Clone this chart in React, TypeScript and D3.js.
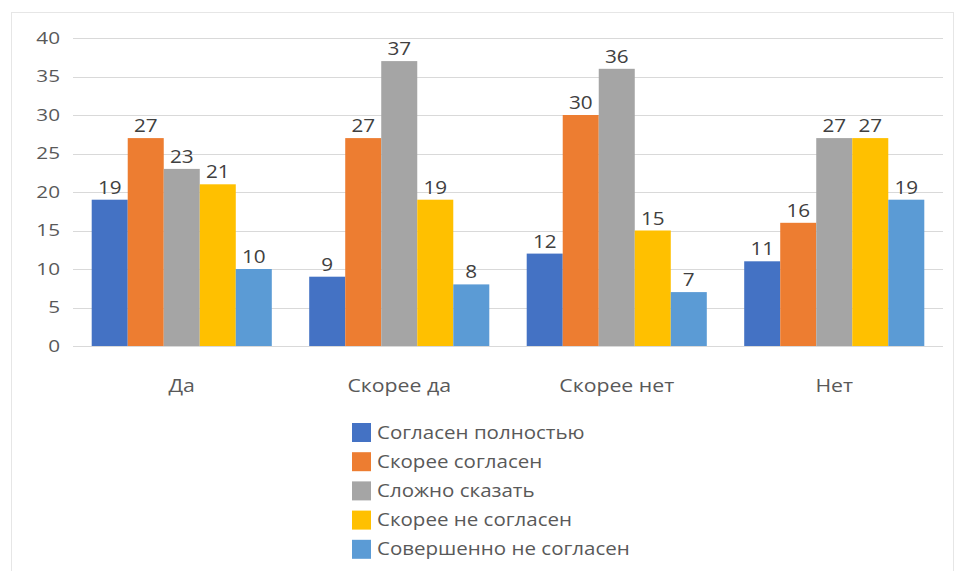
import React, { useEffect, useRef } from 'react';
import * as d3 from 'd3';

const categories = ['Да', 'Скорее да', 'Скорее нет', 'Нет'];
const seriesNames = [
  'Согласен полностью',
  'Скорее согласен',
  'Сложно сказать',
  'Скорее не согласен',
  'Совершенно не согласен',
];
const seriesColors = ['#4472C4', '#ED7D31', '#A5A5A5', '#FFC000', '#5B9BD5'];
const fullyAgree = [19, 9, 12, 11];
const ratherAgree = [27, 27, 30, 16];
const hardToSay = [23, 37, 36, 27];
const ratherDisagree = [21, 19, 15, 27];
const fullyDisagree = [10, 8, 7, 19];
const yTicks = [0, 5, 10, 15, 20, 25, 30, 35, 40];

const seriesValues = [fullyAgree, ratherAgree, hardToSay, ratherDisagree, fullyDisagree];

const W = 956;
const H = 571;

const App: React.FC = () => {
  const ref = useRef<SVGSVGElement>(null);

  useEffect(() => {
    const svg = d3.select(ref.current);
    svg.selectAll('*').remove();

    const font = '"Open Sans", "Noto Sans", sans-serif';
    const left = 73;
    const right = 943;
    const top = 38;
    const bottom = 346;

    // the source image is a bit stretched sideways, so text gets a horizontal scale
    const label = (
      parent: d3.Selection<any, any, any, any>,
      x: number, yPos: number, txt: string | number,
      size: number, sx: number, anchor: string, color: string, dy = '0'
    ) => parent.append('text')
      .attr('transform', `translate(${x},${yPos}) scale(${sx},1)`)
      .attr('dy', dy)
      .attr('text-anchor', anchor)
      .attr('font-family', font).attr('font-size', size)
      .attr('fill', color)
      .text(txt);

    // chart frame
    svg.append('rect')
      .attr('x', 11.5).attr('y', 12.5)
      .attr('width', W - 14).attr('height', H - 10)
      .attr('fill', 'none').attr('stroke', '#e6e6e6');

    const y = d3.scaleLinear().domain([0, 40]).range([bottom, top]);
    const x0 = d3.scaleBand().domain(categories).range([left, right])
      .paddingInner(0.172).paddingOuter(0.086);
    const x1 = d3.scaleBand().domain(seriesNames).range([0, x0.bandwidth()]);

    const grid = svg.append('g');
    grid.selectAll('line').data(yTicks).enter().append('line')
      .attr('x1', left).attr('x2', right)
      .attr('y1', d => Math.round(y(d)) + 0.5).attr('y2', d => Math.round(y(d)) + 0.5)
      .attr('stroke', '#d9d9d9').attr('stroke-width', 1);

    const ticksG = svg.append('g');
    yTicks.forEach(t => label(ticksG, 60, y(t), t, 17, 1.22, 'end', '#595959', '0.35em'));

    const barsG = svg.append('g');
    categories.forEach((cat, ci) => {
      const gx = x0(cat)!;
      seriesNames.forEach((s, si) => {
        const v = seriesValues[si][ci];
        barsG.append('rect')
          .attr('x', gx + x1(s)!)
          .attr('y', y(v))
          .attr('width', x1.bandwidth())
          .attr('height', y(0) - y(v))
          .attr('fill', seriesColors[si]);
        label(barsG, gx + x1(s)! + x1.bandwidth() / 2, y(v) - 6, v, 18, 1.15, 'middle', '#404040');
      });
    });

    const catG = svg.append('g');
    categories.forEach(c =>
      label(catG, x0(c)! + x0.bandwidth() / 2, 385, c, 19, 1.12, 'middle', '#595959', '0.35em'));

    const legend = svg.append('g');
    seriesNames.forEach((s, i) => {
      const ly = 432 + i * 29.2;
      legend.append('rect')
        .attr('x', 352).attr('y', ly - 9).attr('width', 19).attr('height', 19)
        .attr('fill', seriesColors[i]);
      label(legend, 377, ly, s, 19, 1.08, 'start', '#595959', '0.35em');
    });
  }, []);

  return (
    <div style={{ position: 'absolute', left: 0, top: 0 }}>
      <svg ref={ref} width={W} height={H} style={{ display: 'block', background: '#fff' }} />
    </div>
  );
};

export default App;
